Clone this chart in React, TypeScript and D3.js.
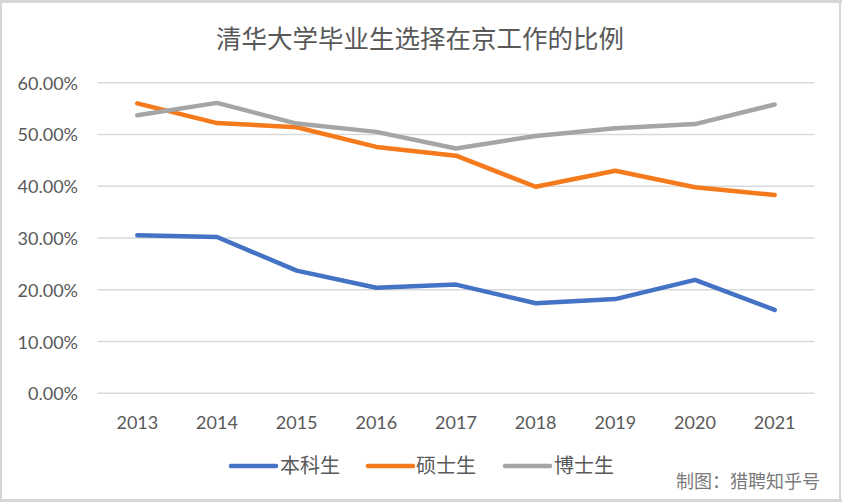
import React from "react";
import * as d3 from "d3";

const years = ["2013", "2014", "2015", "2016", "2017", "2018", "2019", "2020", "2021"];
const undergrad = [0.3055, 0.302, 0.237, 0.204, 0.21, 0.174, 0.182, 0.219, 0.161];
const master = [0.56, 0.522, 0.514, 0.476, 0.459, 0.399, 0.43, 0.398, 0.383];
const doctor = [0.537, 0.561, 0.521, 0.505, 0.473, 0.497, 0.512, 0.52, 0.558];
const seriesNames = ["本科生", "硕士生", "博士生"];
const colors = ["#4472C4", "#F57A1B", "#A5A5A5"];
const yTicks = [0, 0.1, 0.2, 0.3, 0.4, 0.5, 0.6];
const title = "清华大学毕业生选择在京工作的比例";
const credit = "制图：猎聘知乎号";

const W = 842;
const H = 502;
const FONT = "Lato, 'Noto Sans CJK SC', sans-serif";
const TXT = "#595959";

export default function App() {
  const x = d3.scaleBand().domain(years).range([97.5, 814.5]).padding(0);
  const y = d3.scaleLinear().domain([0, 0.6]).range([393.3, 82.7]);
  const cx = (d: string) => (x(d) as number) + x.bandwidth() / 2;
  const line = d3
    .line<number>()
    .x((_, i) => cx(years[i]))
    .y((v) => y(v));
  const data = [undergrad, master, doctor];
  const fmt = d3.format(".2%");

  const legendItems = [
    { lx: 229, tx: 280 },
    { lx: 366, tx: 416 },
    { lx: 503, tx: 554 },
  ];

  return (
    <svg
      width={W}
      height={H}
      style={{ position: "absolute", left: 0, top: 0, display: "block" }}
      fontFamily={FONT}
    >
      <rect x={0} y={0} width={W} height={H} fill="#d6d6d6" />
      <rect x={2} y={3} width={837} height={496} fill="#ffffff" />
      <rect x={841} y={3} width={1} height={496} fill="#ffffff" />
      <text
        x={420}
        y={38}
        textAnchor="middle"
        dominantBaseline="central"
        fontSize={25.5}
        fill={TXT}
      >
        {title}
      </text>
      {yTicks.map((t) => (
        <g key={t}>
          <line x1={97.5} x2={814.5} y1={y(t)} y2={y(t)} stroke="#d9d9d9" strokeWidth={1.5} />
          <text
            x={78}
            y={y(t)}
            textAnchor="end"
            dominantBaseline="central"
            fontSize={18}
            fill={TXT}
          >
            {fmt(t)}
          </text>
        </g>
      ))}
      {years.map((yr) => (
        <text
          key={yr}
          x={cx(yr)}
          y={422}
          textAnchor="middle"
          dominantBaseline="central"
          fontSize={18}
          fill={TXT}
        >
          {yr}
        </text>
      ))}
      {data.map((s, i) => (
        <path
          key={i}
          d={line(s) || ""}
          fill="none"
          stroke={colors[i]}
          strokeWidth={4.5}
          strokeLinejoin="round"
          strokeLinecap="round"
        />
      ))}
      {seriesNames.map((n, i) => (
        <g key={n}>
          <line
            x1={legendItems[i].lx + 2}
            x2={legendItems[i].lx + 47}
            y1={466}
            y2={466}
            stroke={colors[i]}
            strokeWidth={4.5}
            strokeLinecap="round"
          />
          <text
            x={legendItems[i].tx}
            y={465}
            dominantBaseline="central"
            fontSize={20}
            fill={TXT}
          >
            {n}
          </text>
        </g>
      ))}
      <text
        x={820}
        y={481}
        textAnchor="end"
        dominantBaseline="central"
        fontSize={18}
        fill="#7a7a7a"
      >
        {credit}
      </text>
    </svg>
  );
}
